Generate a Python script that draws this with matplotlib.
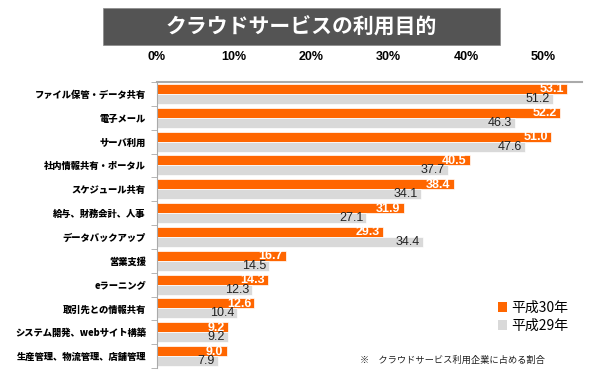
import matplotlib
matplotlib.use("Agg")
import matplotlib.pyplot as plt
from matplotlib.patches import Rectangle, Patch
import numpy as np

plt.rcParams['font.family'] = ['Noto Sans CJK JP', 'DejaVu Sans']

categories = ["ファイル保管・データ共有", "電子メール", "サーバ利用", "社内情報共有・ポータル",
              "スケジュール共有", "給与、財務会計、人事", "データバックアップ", "営業支援",
              "eラーニング", "取引先との情報共有", "システム開発、webサイト構築", "生産管理、物流管理、店舗管理"]
h30 = [53.1, 52.2, 51.0, 40.5, 38.4, 31.9, 29.3, 16.7, 14.3, 12.6, 9.2, 9.0]
h29 = [51.2, 46.3, 47.6, 37.7, 34.1, 27.1, 34.4, 14.5, 12.3, 10.4, 9.2, 7.9]
series_names = ["平成30年", "平成29年"]
xticks = [0, 10, 20, 30, 40, 50]
xticklabels = ["0%", "10%", "20%", "30%", "40%", "50%"]
title = "クラウドサービスの利用目的"
note = "※　クラウドサービス利用企業に占める割合"

ORANGE = "#FF6600"
GRAY = "#D9D9D9"

fig = plt.figure(figsize=(6, 3.72), dpi=100)
ax = fig.add_axes([157/600, 1-368/372, (582-157)/600, (368-82)/372])

y = np.arange(len(categories))
bh = 0.42
ax.barh(y - 0.21, h30, height=bh, color=ORANGE, edgecolor="white", linewidth=0.5)
ax.barh(y + 0.21, h29, height=bh, color=GRAY, edgecolor="white", linewidth=0.5)

for yi, v in zip(y, h30):
    ax.text(v - 0.4, yi - 0.19, f"{v:.1f}", ha="right", va="center", color="white",
            fontsize=9, fontweight="bold", family=["Liberation Sans"])
for yi, v in zip(y, h29):
    ax.text(v - 0.4, yi + 0.21, f"{v:.1f}", ha="right", va="center", color="#222222",
            fontsize=9, family=["Liberation Sans"])

ax.set_xlim(0, 55)
ax.set_ylim(len(categories) - 0.5, -0.5)
ax.set_yticks(y)
ax.set_yticklabels(categories, fontsize=6.7, fontweight="heavy")
ax.tick_params(axis="y", which="major", length=0, pad=8)
ax.set_yticks(np.arange(len(categories) + 1) - 0.5, minor=True)
ax.tick_params(axis="y", which="minor", length=4, color="#aaaaaa", direction="out")

ax.xaxis.tick_top()
ax.set_xticks(xticks)
ax.set_xticklabels(xticklabels, fontsize=9, fontweight="bold", family=["Liberation Sans"])
ax.tick_params(axis="x", length=0, pad=14)

for s in ["right", "bottom"]:
    ax.spines[s].set_visible(False)
ax.spines["top"].set_color("#aaaaaa")
ax.spines["top"].set_linewidth(1.5)
ax.spines["left"].set_color("#aaaaaa")

# Title
fig.patches.append(Rectangle((103/600, 1-45/372), (500-103)/600, 37/372,
                             transform=fig.transFigure, facecolor="#545454",
                             edgecolor="#888888", linewidth=0.5))
fig.text(301/600, 1-27/372, title, ha="center", va="center", color="white",
         fontsize=15, fontweight="bold")

# Legend
handles = [Patch(facecolor=ORANGE), Patch(facecolor=GRAY)]
fig.legend(handles, series_names, loc="center left", bbox_to_anchor=(485/600, 1-317/372),
           frameon=False, fontsize=10, handlelength=0.7, handleheight=0.7,
           handletextpad=0.3, labelspacing=0.3)

fig.text(360/600, 1-360/372, note, ha="left", va="center", fontsize=6.7, color="#222222")

fig.savefig("out.png", dpi=100)
